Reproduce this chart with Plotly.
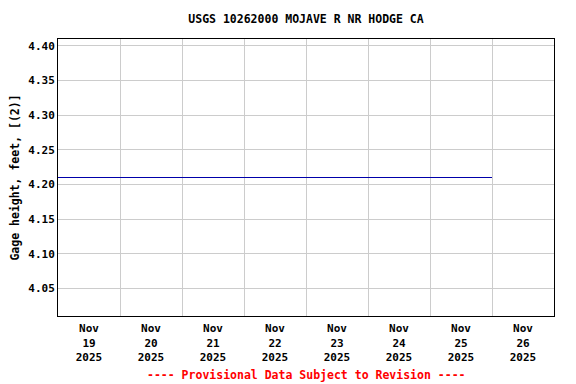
import plotly.graph_objects as go

# Data
times = ["2025-11-19 00:00", "2025-11-20 00:00", "2025-11-21 00:00", "2025-11-22 00:00",
         "2025-11-23 00:00", "2025-11-24 00:00", "2025-11-25 00:00", "2025-11-26 00:00"]
gage_height = [4.21, 4.21, 4.21, 4.21, 4.21, 4.21, 4.21, 4.21]

title_text = "USGS 10262000 MOJAVE R NR HODGE CA"
y_title = "Gage height, feet, [(2)]"
footer_text = "---- Provisional Data Subject to Revision ----"
y_ticks = [4.05, 4.10, 4.15, 4.20, 4.25, 4.30, 4.35, 4.40]

FONT = "DejaVu Sans Mono"
OFF = 8  # page body margin
W, H = 576 - OFF, 384 - OFF

fig = go.Figure()
fig.add_trace(go.Scatter(x=times, y=gage_height, mode="lines",
                         line=dict(color="#0000aa", width=1), showlegend=False,
                         hoverinfo="x+y"))

fig.update_layout(
    width=W, height=H,
    margin=dict(l=58 - OFF, r=22, t=39 - OFF, b=68, autoexpand=False),
    paper_bgcolor="white", plot_bgcolor="white",
    font=dict(family=FONT, color="black", size=11),
    title=dict(text="<b>" + title_text + "</b>", x=(306 - OFF) / W, xanchor="center",
               y=1 - (19 - OFF) / H, yanchor="middle",
               font=dict(family=FONT, size=11.5, color="black")),
    xaxis=dict(
        type="date",
        range=["2025-11-19 00:00", "2025-11-27 00:00"],
        dtick=86400000, tick0="2025-11-19",
        tickformat="<b>%b</b><br><b>%d</b><br><b>%Y</b>",
        ticklabelmode="period",
        ticklabelstandoff=2,
        showgrid=True, gridcolor="#cccccc", gridwidth=1,
        showline=True, linecolor="black", linewidth=1, mirror=True,
        ticks="", zeroline=False, automargin=False,
        tickfont=dict(family=FONT, size=11, color="black"),
    ),
    yaxis=dict(
        range=[4.01, 4.41],
        tickvals=y_ticks,
        ticktext=["<b>%.2f</b>" % v for v in y_ticks],
        showgrid=True, gridcolor="#cccccc", gridwidth=1,
        showline=True, linecolor="black", linewidth=1, mirror=True,
        ticks="", zeroline=False, automargin=False,
        tickfont=dict(family=FONT, size=11, color="black"),
        title=dict(text="<b>" + y_title + "</b>", standoff=6,
                   font=dict(family=FONT, size=11.5, color="black")),
    ),
    annotations=[dict(
        text="<b>" + footer_text + "</b>", xref="paper", yref="paper",
        x=0.5, y=-(375 - 316) / 277, xanchor="center", yanchor="middle",
        showarrow=False, font=dict(family=FONT, size=11.5, color="red"))],
)

fig.write_html("out.html")
